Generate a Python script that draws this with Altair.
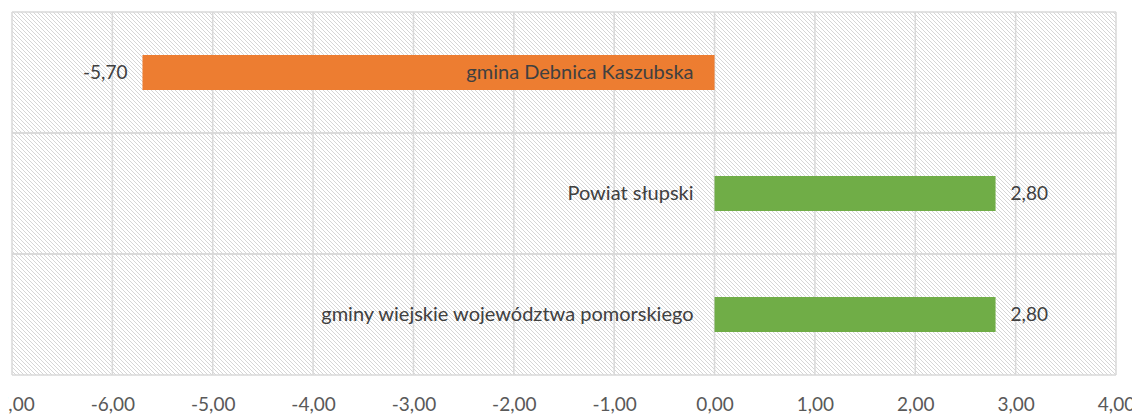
import altair as alt
import pandas as pd

# ---- data ----
categories = ["gmina Debnica Kaszubska", "Powiat słupski", "gminy wiejskie województwa pomorskiego"]
values = [-5.70, 2.80, 2.80]
bar_colors = ["#ED7D31", "#70AD47", "#70AD47"]
x_ticks = [-7, -6, -5, -4, -3, -2, -1, 0, 1, 2, 3, 4]

df = pd.DataFrame({"cat": categories, "value": values, "color": bar_colors})
ticks_df = pd.DataFrame({"t": x_ticks})

W, H = 1104, 363
FONT = "Lato"
GRID = "#d9d9d9"

# ---- diagonal background hatch (pure decoration, pixel pattern) ----
HATCH_STEP = 4
starts = list(range(-H, W + HATCH_STEP, HATCH_STEP))
hatch_df = pd.DataFrame({
    "hx": starts,
    "hx2": [s + H for s in starts],
    "hy": [0] * len(starts),
    "hy2": [H] * len(starts),
})

xscale = alt.Scale(domain=[x_ticks[0], x_ticks[-1]], nice=False, zero=False)
yscale = alt.Scale(domain=categories, paddingInner=0, paddingOuter=0)

base = alt.Chart(df)

hatch = alt.Chart(hatch_df).mark_rule(color="#d6d6d6", strokeWidth=1, clip=True).encode(
    x=alt.X("hx:Q", scale=None),
    x2="hx2:Q",
    y=alt.Y("hy:Q", scale=None),
    y2="hy2:Q",
)

vgrid = alt.Chart(ticks_df).mark_rule(color=GRID, strokeWidth=1.5).encode(
    x=alt.X("t:Q", scale=xscale,
            axis=alt.Axis(values=x_ticks, grid=False, ticks=False, domain=False,
                          labelExpr="(datum.value < 0 ? '-' : '') + replace(format(abs(datum.value), '.2f'), '.', ',')",
                          labelFont=FONT, labelFontSize=19, labelColor="#595959",
                          labelPadding=20, labelFlush=False, labelOverlap=False,
                          labelBound=False, title=None))
)

hgrid_top = base.mark_rule(color=GRID, strokeWidth=1.5).encode(
    y=alt.Y("cat:N", scale=yscale, sort=categories, axis=None, bandPosition=0)
)
hgrid_bot = base.mark_rule(color=GRID, strokeWidth=1.5).encode(
    y=alt.Y("cat:N", scale=yscale, sort=categories, axis=None, bandPosition=1)
)

bars = base.mark_bar(size=35).encode(
    y=alt.Y("cat:N", scale=yscale, sort=categories, axis=None),
    x=alt.X("value:Q", scale=xscale),
    x2=alt.datum(0),
    color=alt.Color("color:N", scale=None),
)

cat_labels = base.mark_text(align="right", baseline="middle", dx=-21,
                            font=FONT, fontSize=20, color="#404040").encode(
    y=alt.Y("cat:N", scale=yscale, sort=categories, axis=None),
    x=alt.datum(0),
    text="cat:N",
)

lab = base.transform_calculate(
    label="(datum.value < 0 ? '-' : '') + replace(format(abs(datum.value), '.2f'), '.', ',')"
)
neg_labels = lab.transform_filter("datum.value < 0").mark_text(
    align="right", baseline="middle", dx=-15, font=FONT, fontSize=19, color="#404040"
).encode(
    y=alt.Y("cat:N", scale=yscale, sort=categories, axis=None),
    x=alt.X("value:Q", scale=xscale),
    text="label:N",
)
pos_labels = lab.transform_filter("datum.value >= 0").mark_text(
    align="left", baseline="middle", dx=15, font=FONT, fontSize=19, color="#404040"
).encode(
    y=alt.Y("cat:N", scale=yscale, sort=categories, axis=None),
    x=alt.X("value:Q", scale=xscale),
    text="label:N",
)

chart = alt.layer(hatch, vgrid, hgrid_top, hgrid_bot, bars, cat_labels, neg_labels, pos_labels).properties(
    width=W, height=H,
    padding={"left": 4, "top": 4, "right": 16, "bottom": 41},
    autosize=alt.AutoSizeParams(type="none"),
).configure_view(stroke=None)

chart.save("out.html", embed_options={"renderer": "svg", "actions": False})
